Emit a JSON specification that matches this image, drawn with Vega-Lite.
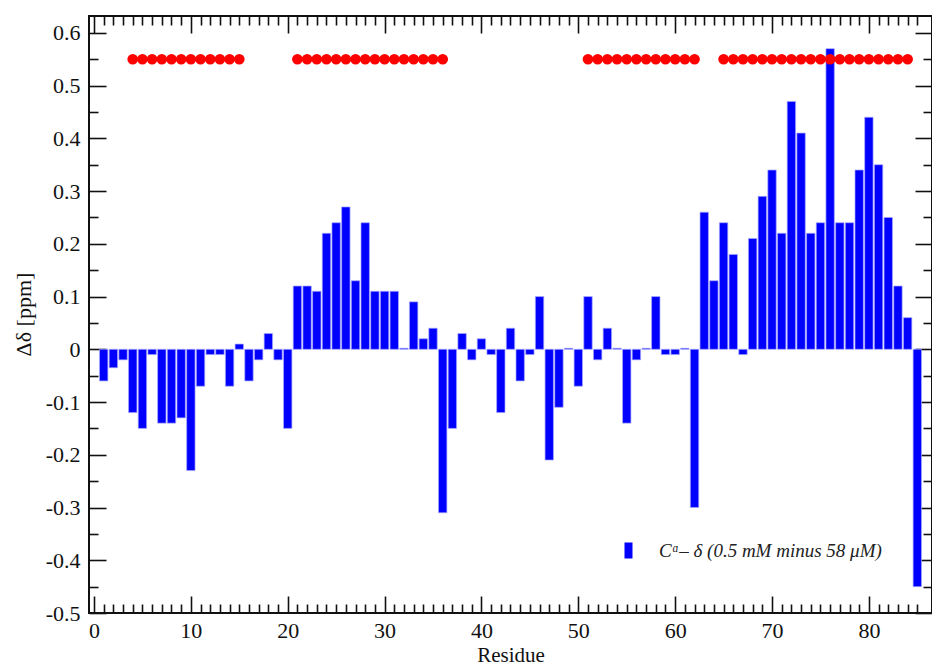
{
  "$schema": "https://vega.github.io/schema/vega-lite/v6.json",
  "autosize": {"type": "none"},
  "padding": {"left": 89, "top": 16, "right": 0, "bottom": 55},
  "width": 843,
  "height": 597,
  "background": "white",
  "datasets": {
    "shifts": [
      {"residue": 1, "delta": -0.06}, {"residue": 2, "delta": -0.035}, {"residue": 3, "delta": -0.02},
      {"residue": 4, "delta": -0.12}, {"residue": 5, "delta": -0.15}, {"residue": 6, "delta": -0.01},
      {"residue": 7, "delta": -0.14}, {"residue": 8, "delta": -0.14}, {"residue": 9, "delta": -0.13},
      {"residue": 10, "delta": -0.23}, {"residue": 11, "delta": -0.07}, {"residue": 12, "delta": -0.01},
      {"residue": 13, "delta": -0.01}, {"residue": 14, "delta": -0.07}, {"residue": 15, "delta": 0.01},
      {"residue": 16, "delta": -0.06}, {"residue": 17, "delta": -0.02}, {"residue": 18, "delta": 0.03},
      {"residue": 19, "delta": -0.02}, {"residue": 20, "delta": -0.15}, {"residue": 21, "delta": 0.12},
      {"residue": 22, "delta": 0.12}, {"residue": 23, "delta": 0.11}, {"residue": 24, "delta": 0.22},
      {"residue": 25, "delta": 0.24}, {"residue": 26, "delta": 0.27}, {"residue": 27, "delta": 0.13},
      {"residue": 28, "delta": 0.24}, {"residue": 29, "delta": 0.11}, {"residue": 30, "delta": 0.11},
      {"residue": 31, "delta": 0.11}, {"residue": 32, "delta": 0.002}, {"residue": 33, "delta": 0.09},
      {"residue": 34, "delta": 0.02}, {"residue": 35, "delta": 0.04}, {"residue": 36, "delta": -0.31},
      {"residue": 37, "delta": -0.15}, {"residue": 38, "delta": 0.03}, {"residue": 39, "delta": -0.02},
      {"residue": 40, "delta": 0.02}, {"residue": 41, "delta": -0.01}, {"residue": 42, "delta": -0.12},
      {"residue": 43, "delta": 0.04}, {"residue": 44, "delta": -0.06}, {"residue": 45, "delta": -0.01},
      {"residue": 46, "delta": 0.10}, {"residue": 47, "delta": -0.21}, {"residue": 48, "delta": -0.11},
      {"residue": 49, "delta": 0.002}, {"residue": 50, "delta": -0.07}, {"residue": 51, "delta": 0.10},
      {"residue": 52, "delta": -0.02}, {"residue": 53, "delta": 0.04}, {"residue": 54, "delta": 0.002},
      {"residue": 55, "delta": -0.14}, {"residue": 56, "delta": -0.02}, {"residue": 57, "delta": 0.002},
      {"residue": 58, "delta": 0.10}, {"residue": 59, "delta": -0.01}, {"residue": 60, "delta": -0.01},
      {"residue": 61, "delta": 0.002}, {"residue": 62, "delta": -0.30}, {"residue": 63, "delta": 0.26},
      {"residue": 64, "delta": 0.13}, {"residue": 65, "delta": 0.24}, {"residue": 66, "delta": 0.18},
      {"residue": 67, "delta": -0.01}, {"residue": 68, "delta": 0.21}, {"residue": 69, "delta": 0.29},
      {"residue": 70, "delta": 0.34}, {"residue": 71, "delta": 0.22}, {"residue": 72, "delta": 0.47},
      {"residue": 73, "delta": 0.41}, {"residue": 74, "delta": 0.22}, {"residue": 75, "delta": 0.24},
      {"residue": 76, "delta": 0.57}, {"residue": 77, "delta": 0.24}, {"residue": 78, "delta": 0.24},
      {"residue": 79, "delta": 0.34}, {"residue": 80, "delta": 0.44}, {"residue": 81, "delta": 0.35},
      {"residue": 82, "delta": 0.25}, {"residue": 83, "delta": 0.12}, {"residue": 84, "delta": 0.06},
      {"residue": 85, "delta": -0.45}
    ],
    "helix": [
      {"residue": 4, "level": 0.55}, {"residue": 5, "level": 0.55}, {"residue": 6, "level": 0.55},
      {"residue": 7, "level": 0.55}, {"residue": 8, "level": 0.55}, {"residue": 9, "level": 0.55},
      {"residue": 10, "level": 0.55}, {"residue": 11, "level": 0.55}, {"residue": 12, "level": 0.55},
      {"residue": 13, "level": 0.55}, {"residue": 14, "level": 0.55}, {"residue": 15, "level": 0.55},
      {"residue": 21, "level": 0.55}, {"residue": 22, "level": 0.55}, {"residue": 23, "level": 0.55},
      {"residue": 24, "level": 0.55}, {"residue": 25, "level": 0.55}, {"residue": 26, "level": 0.55},
      {"residue": 27, "level": 0.55}, {"residue": 28, "level": 0.55}, {"residue": 29, "level": 0.55},
      {"residue": 30, "level": 0.55}, {"residue": 31, "level": 0.55}, {"residue": 32, "level": 0.55},
      {"residue": 33, "level": 0.55}, {"residue": 34, "level": 0.55}, {"residue": 35, "level": 0.55},
      {"residue": 36, "level": 0.55},
      {"residue": 51, "level": 0.55}, {"residue": 52, "level": 0.55}, {"residue": 53, "level": 0.55},
      {"residue": 54, "level": 0.55}, {"residue": 55, "level": 0.55}, {"residue": 56, "level": 0.55},
      {"residue": 57, "level": 0.55}, {"residue": 58, "level": 0.55}, {"residue": 59, "level": 0.55},
      {"residue": 60, "level": 0.55}, {"residue": 61, "level": 0.55}, {"residue": 62, "level": 0.55},
      {"residue": 65, "level": 0.55}, {"residue": 66, "level": 0.55}, {"residue": 67, "level": 0.55},
      {"residue": 68, "level": 0.55}, {"residue": 69, "level": 0.55}, {"residue": 70, "level": 0.55},
      {"residue": 71, "level": 0.55}, {"residue": 72, "level": 0.55}, {"residue": 73, "level": 0.55},
      {"residue": 74, "level": 0.55}, {"residue": 75, "level": 0.55}, {"residue": 76, "level": 0.55},
      {"residue": 77, "level": 0.55}, {"residue": 78, "level": 0.55}, {"residue": 79, "level": 0.55},
      {"residue": 80, "level": 0.55}, {"residue": 81, "level": 0.55}, {"residue": 82, "level": 0.55},
      {"residue": 83, "level": 0.55}, {"residue": 84, "level": 0.55}
    ]
  },
  "resolve": {"axis": {"x": "independent", "y": "independent"}},
  "layer": [
    {
      "data": {"name": "shifts"},
      "mark": {"type": "bar", "size": 8.4, "stroke": "#a8a8ff", "strokeWidth": 0.7},
      "encoding": {
        "x": {
          "field": "residue", "type": "quantitative",
          "scale": {"domain": [0, 86], "nice": false, "zero": false},
          "axis": {
            "orient": "bottom", "values": [0, 10, 20, 30, 40, 50, 60, 70, 80],
            "tickSize": -17, "labelPadding": 24, "labelFontSize": 22, "labelBaseline": "top",
            "title": "Residue", "titleFontSize": 21, "titleY": 48, "titleBaseline": "alphabetic"
          }
        },
        "y": {
          "field": "delta", "type": "quantitative",
          "scale": {"domain": [-0.5, 0.632], "nice": false, "zero": false},
          "axis": {
            "orient": "left", "values": [-0.5, -0.4, -0.3, -0.2, -0.1, 0, 0.1, 0.2, 0.3, 0.4, 0.5, 0.6],
            "labelExpr": "'' + datum.value",
            "tickSize": -17, "labelPadding": 26, "labelFontSize": 22,
            "title": "Δδ   [ppm]", "titleFontSize": 22, "titleX": -66, "titleY": 298,
            "titleAlign": "center", "titleBaseline": "middle", "titleAngle": -90
          }
        },
        "color": {
          "datum": "Cᵅ– δ  (0.5 mM minus 58 μM)",
          "type": "nominal",
          "scale": {"range": ["#0000ff"]},
          "legend": {
            "orient": "none", "legendX": 530, "legendY": 525, "title": null, "padding": 0,
            "symbolType": "M-0.5,-1H0.5V1H-0.5Z", "symbolSize": 256, "symbolStrokeWidth": 0,
            "labelFont": "Liberation Serif", "labelFontStyle": "italic", "labelFontSize": 19,
            "labelOffset": 21, "labelLimit": 400, "labelColor": "#222"
          }
        }
      }
    },
    {
      "data": {"name": "helix"},
      "mark": {"type": "point", "shape": "circle", "filled": true, "size": 115, "color": "#ff0000", "opacity": 1},
      "encoding": {
        "x": {
          "field": "residue", "type": "quantitative",
          "scale": {"domain": [0, 86], "nice": false, "zero": false},
          "axis": {"orient": "top", "values": [0, 10, 20, 30, 40, 50, 60, 70, 80], "tickSize": -17, "labels": false, "title": null}
        },
        "y": {
          "field": "level", "type": "quantitative",
          "scale": {"domain": [-0.5, 0.632], "nice": false, "zero": false},
          "axis": {"orient": "right", "values": [-0.5, -0.4, -0.3, -0.2, -0.1, 0, 0.1, 0.2, 0.3, 0.4, 0.5, 0.6], "tickSize": -17, "labels": false, "title": null}
        }
      }
    },
    {
      "data": {"name": "shifts"},
      "mark": {"type": "point", "opacity": 0},
      "encoding": {
        "x": {
          "field": "residue", "type": "quantitative",
          "scale": {"domain": [0, 86], "nice": false, "zero": false},
          "axis": {"orient": "bottom", "values": [1,2,3,4,5,6,7,8,9,11,12,13,14,15,16,17,18,19,21,22,23,24,25,26,27,28,29,31,32,33,34,35,36,37,38,39,41,42,43,44,45,46,47,48,49,51,52,53,54,55,56,57,58,59,61,62,63,64,65,66,67,68,69,71,72,73,74,75,76,77,78,79,81,82,83,84,85], "tickSize": -9, "labels": false, "title": null}
        },
        "y": {
          "field": "delta", "type": "quantitative",
          "scale": {"domain": [-0.5, 0.632], "nice": false, "zero": false},
          "axis": {"orient": "left", "values": [-0.45, -0.35, -0.25, -0.15, -0.05, 0.05, 0.15, 0.25, 0.35, 0.45, 0.55], "tickSize": -9, "labels": false, "title": null}
        }
      }
    },
    {
      "data": {"name": "shifts"},
      "mark": {"type": "point", "opacity": 0},
      "encoding": {
        "x": {
          "field": "residue", "type": "quantitative",
          "scale": {"domain": [0, 86], "nice": false, "zero": false},
          "axis": {"orient": "top", "values": [1,2,3,4,5,6,7,8,9,11,12,13,14,15,16,17,18,19,21,22,23,24,25,26,27,28,29,31,32,33,34,35,36,37,38,39,41,42,43,44,45,46,47,48,49,51,52,53,54,55,56,57,58,59,61,62,63,64,65,66,67,68,69,71,72,73,74,75,76,77,78,79,81,82,83,84,85], "tickSize": -9, "labels": false, "title": null}
        },
        "y": {
          "field": "delta", "type": "quantitative",
          "scale": {"domain": [-0.5, 0.632], "nice": false, "zero": false},
          "axis": {"orient": "right", "values": [-0.45, -0.35, -0.25, -0.15, -0.05, 0.05, 0.15, 0.25, 0.35, 0.45, 0.55], "tickSize": -9, "labels": false, "title": null}
        }
      }
    }
  ],
  "config": {
    "view": {"stroke": "#111", "strokeWidth": 2},
    "axis": {
      "grid": false, "domain": false, "tickColor": "#111", "tickWidth": 1.6,
      "labelColor": "#111", "titleColor": "#111",
      "labelFont": "Liberation Serif", "titleFont": "Liberation Serif", "titleFontWeight": "normal"
    }
  }
}
